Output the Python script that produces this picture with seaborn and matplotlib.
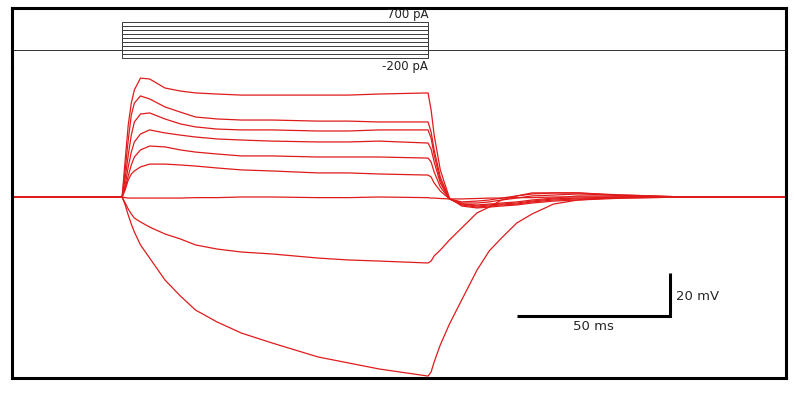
import matplotlib
matplotlib.use("Agg")
import matplotlib.pyplot as plt
import numpy as np
import pandas as pd
import seaborn as sns

# time grid of the voltage traces (ms)
t_ms = [0, 36, 37, 38, 39, 40, 42, 45, 50, 55, 60, 67, 75, 85, 100, 110, 120, 136,
        137, 138, 140, 143, 147, 152, 156, 160, 165, 170, 177, 185, 200, 220, 253]

# membrane potential relative to rest (mV)
v_700 = [0, 0, 17.2, 33.5, 43.7, 49.8, 55.3, 54.9, 50.7,
         49.3, 48.4, 47.9, 47.4, 47.4, 47.4, 47.4, 47.9, 48.4,
         40.5, 28.8, 12.6, -0.5, -4.2, -5.1, -4.7, -4.2, -3.7, -2.8, -1.9, -1.4, -0.5, 0, 0]
v_600 = [0, 0, 12.6, 26.5, 38.1, 43.7, 47.0, 45.6, 41.9,
         39.5, 37.2, 36.3, 35.8, 35.8, 35.3, 35.3, 34.9, 34.9,
         30.2, 21.9, 9.3, -0.9, -3.7, -4.7, -4.2, -3.7, -3.3, -2.3, -1.4, -0.9, -0.5, 0, 0]
v_500 = [0, 0, 8.8, 19.5, 28.8, 34.9, 38.6, 39.1, 36.3,
         34.0, 32.6, 31.6, 31.2, 31.2, 30.7, 30.7, 31.2, 31.2,
         27.4, 19.5, 7.9, -0.9, -3.3, -4.2, -3.7, -3.3, -2.8, -1.9, -0.9, -0.5, 0, 0, 0]
v_400 = [0, 0, 5.6, 14.0, 20.9, 25.6, 29.3, 31.2, 29.8,
         28.8, 27.9, 27.0, 26.5, 26.0, 25.6, 25.6, 26.0, 25.1,
         22.3, 16.3, 6.5, -0.9, -3.3, -3.7, -3.3, -2.8, -2.3, -1.4, -0.5, 0.5, 0.5, 0, 0]
v_300 = [0, 0, 4.2, 9.8, 14.9, 18.6, 21.9, 23.7, 23.3,
         21.9, 20.9, 20.0, 19.1, 19.1, 18.6, 18.6, 18.6, 18.1,
         16.3, 11.6, 4.7, -0.9, -2.8, -2.8, -2.3, -1.4, -0.5, 0.5, 0.9, 1.4, 0.9, 0, 0]
v_200 = [0, 0, 3.3, 7.9, 10.7, 12.1, 14.0, 15.3, 15.3,
         14.9, 14.4, 13.5, 12.6, 12.1, 11.2, 11.2, 10.7, 10.2,
         9.3, 6.5, 2.8, -0.9, -2.3, -1.9, -1.4, -0.5, 0.5, 1.4, 1.9, 1.9, 0.9, 0, 0]
v_0 = [0, 0, -0.3, -0.5, -0.5, -0.5, -0.5, -0.5, -0.5,
       -0.5, -0.3, -0.3, 0, 0, -0.3, -0.3, 0, -0.3,
       -0.5, -0.5, -0.7, -0.9, -0.9, -0.7, -0.5, -0.5, -0.3, -0.3, 0, 0, 0, 0, 0]
v_m100 = [0, 0, -2.8, -5.6, -7.9, -9.8, -11.6, -14.0, -17.2,
          -19.5, -22.3, -24.2, -25.6, -26.5, -28.4, -29.3, -29.8, -30.7,
          -29.8, -27.4, -24.7, -20.0, -14.4, -7.4, -4.7, -1.4, 0.5, 1.9, 1.9, 1.9, 0.5, 0, 0]
v_m200 = [0, 0, -3.7, -8.4, -12.6, -16.3, -22.3, -28.4, -38.6,
          -46.0, -52.6, -58.1, -63.3, -67.9, -74.4, -77.2, -80.0, -83.3,
          -81.4, -76.7, -68.8, -59.1, -47.9, -34.0, -25.1, -19.1, -12.1, -7.9, -3.3, -1.4, 0, 0, 0]

traces = {"700": v_700, "600": v_600, "500": v_500, "400": v_400, "300": v_300,
          "200": v_200, "0": v_0, "-100": v_m100, "-200": v_m200}

# current step protocol
pulse_on = 36
pulse_off = 136
t_end = 253
currents_pA = [-200, -100, 0, 100, 200, 300, 400, 500, 600, 700]

red = "#e01b1b"

rows = []
for name, vals in traces.items():
    for t, v in zip(t_ms, vals):
        rows.append({"time": t, "dv": v, "trace": name})
df_v = pd.DataFrame(rows)

rows = []
for amp in currents_pA:
    for t, i in zip([0, pulse_on, pulse_on, pulse_off, pulse_off, t_end],
                    [0, 0, amp, amp, 0, 0]):
        rows.append({"time": t, "current": i, "step": amp})
df_i = pd.DataFrame(rows)

sns.set_theme(style="white")
plt.rcParams["font.family"] = ["DejaVu Sans"]

fig = plt.figure(figsize=(7.94, 3.94), dpi=100)
ax_v = fig.add_axes([0.0151, 0.0406, 0.9748, 0.7868])
ax_i = fig.add_axes([0.0151, 0.8274, 0.9748, 0.1523])
ax_i.patch.set_visible(False)

# current panel
sns.lineplot(data=df_i, x="time", y="current", units="step", estimator=None,
             sort=False, color="#3a3a3a", lw=0.7, ax=ax_i, legend=False)
ax_i.set_xlim(0, t_end)
ax_i.set_ylim(-450, 1050)
ax_i.text(pulse_off, 730, "700 pA", ha="right", va="bottom", fontsize=8.5, color="#222222")
ax_i.text(pulse_off, -250, "-200 pA", ha="right", va="top", fontsize=8.5, color="#222222")

# voltage panel
sns.lineplot(data=df_v, x="time", y="dv", units="trace", estimator=None,
             sort=False, color=red, lw=0.9, ax=ax_v, legend=False)
ax_v.set_xlim(0, t_end)
ax_v.set_ylim(-84.2, 60)

# scale bar: 50 ms x 20 mV
sb_t0, sb_t1 = 165, 215
sb_v0, sb_v1 = -55.3, -35.3
ax_v.plot([sb_t0, sb_t1, sb_t1], [sb_v0, sb_v0, sb_v1], color="black", lw=2.2,
          solid_joinstyle="miter", solid_capstyle="butt")
ax_v.text(sb_t1 + 2, (sb_v0 + sb_v1) / 2 - 1, "20 mV", ha="left", va="center", fontsize=9.5)
ax_v.text((sb_t0 + sb_t1) / 2, sb_v0 - 2, "50 ms", ha="center", va="top", fontsize=9.5)

for ax in (ax_i, ax_v):
    ax.set_xticks([])
    ax.set_yticks([])
    ax.set_xlabel("")
    ax.set_ylabel("")
    for s in ax.spines.values():
        s.set_color("black")
        s.set_linewidth(2.2)
ax_i.spines["bottom"].set_visible(False)
ax_v.spines["top"].set_visible(False)

fig.savefig("out.png", dpi=100)
